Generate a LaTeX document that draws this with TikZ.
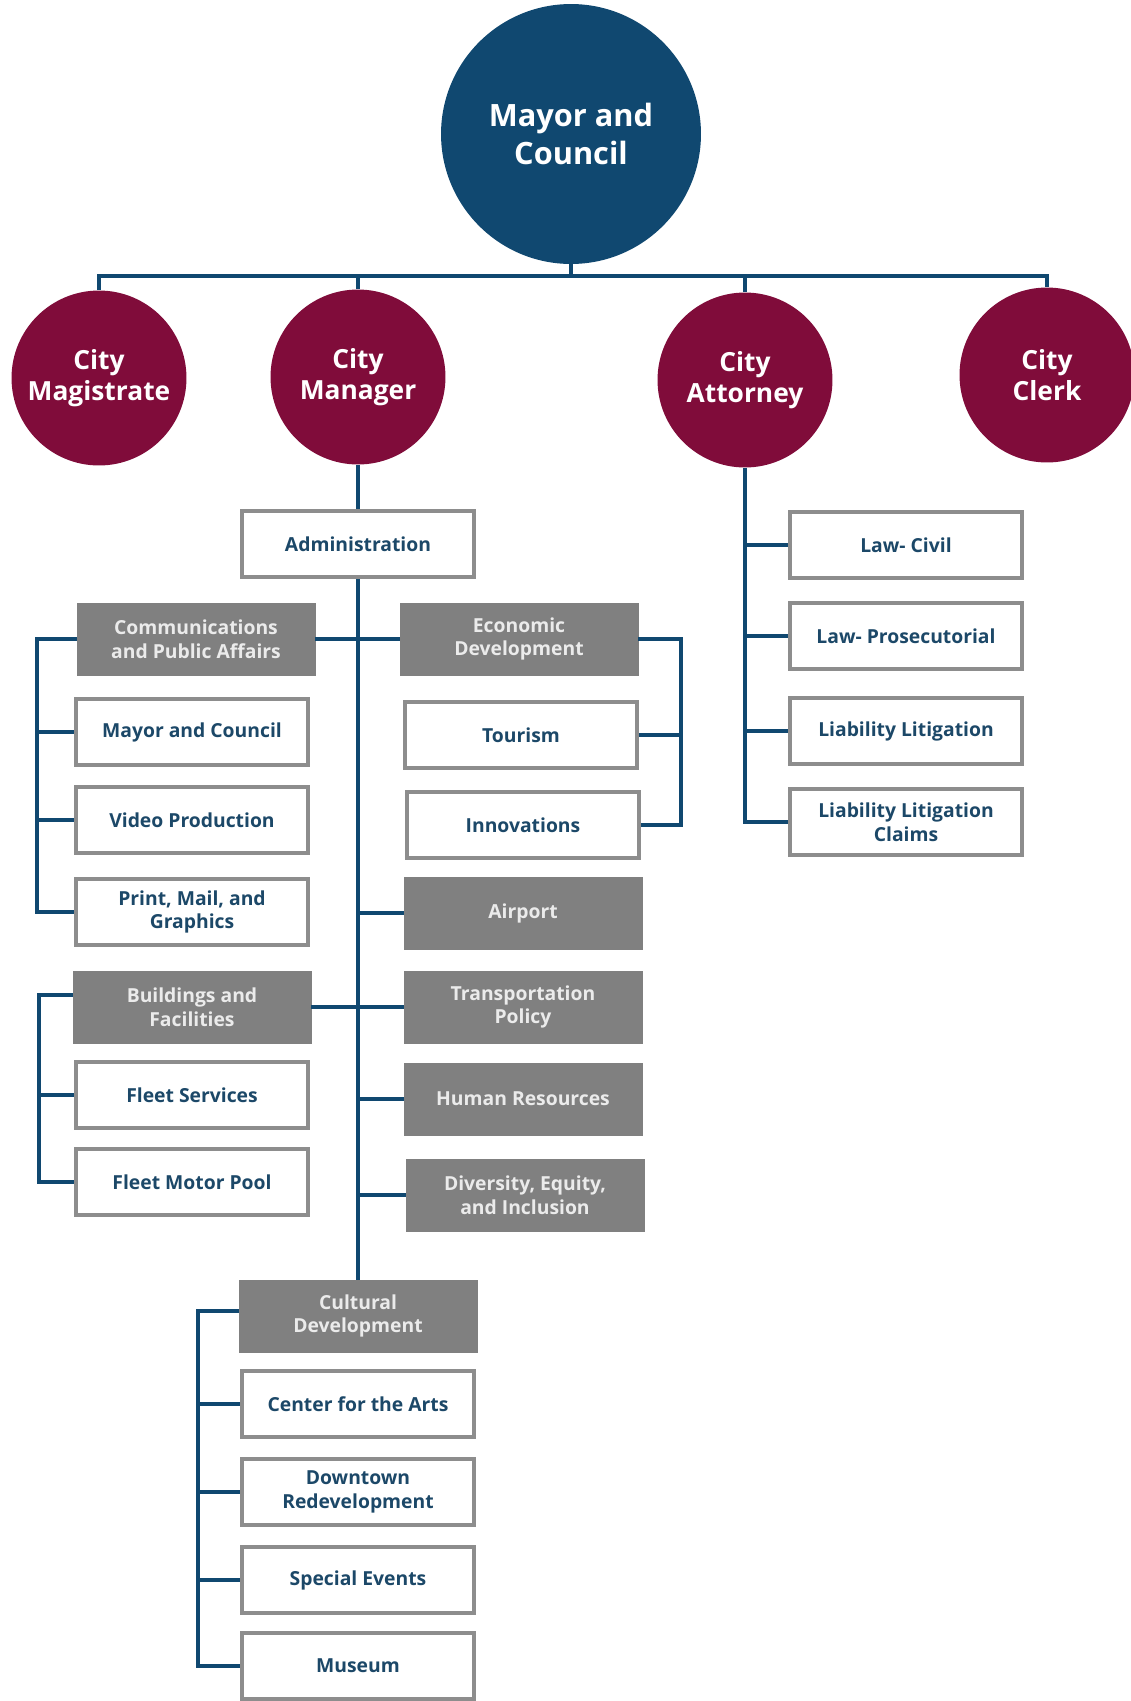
\documentclass[tikz,border=0pt]{standalone}
\usepackage{fontspec}
\setmainfont{Open Sans}
\definecolor{cityblue}{RGB}{16,72,112}
\definecolor{citymaroon}{RGB}{128,12,58}
\definecolor{boxgray}{RGB}{128,128,128}
\definecolor{textblue}{RGB}{28,72,104}
\usetikzlibrary{calc}

\begin{document}
\begin{tikzpicture}[x=0.02cm,y=-0.02cm,
  conn/.style={draw=cityblue,line width=2.3pt},
  topcircle/.style={circle,fill=cityblue,text=white,minimum size=5.2cm,inner sep=0pt,
    font=\fontsize{17.5}{21.5}\selectfont\bfseries,align=center},
  deptcircle/.style={circle,fill=citymaroon,text=white,minimum size=3.5cm,inner sep=0pt,
    font=\fontsize{15}{17.5}\selectfont\bfseries,align=center},
  whitebox/.style={draw=boxgray!90,line width=2.8pt,fill=white,text=textblue,
    minimum width=4.64cm,minimum height=1.32cm,inner sep=2pt,
    font=\fontsize{11}{13.5}\selectfont\bfseries,align=center},
  graybox/.style={whitebox,fill=boxgray,draw=boxgray,line width=0.4pt,
    text=white!92!black,minimum width=4.76cm,minimum height=1.44cm}]
  \useasboundingbox (0,0) rectangle (1130,1701);
  % Top level
  \node[topcircle] (mayor) at (571,134) {Mayor and\\Council};
  \node[deptcircle] (magistrate) at (99,378) {City\\Magistrate};
  \node[deptcircle] (manager) at (358,377) {City\\Manager};
  \node[deptcircle] (attorney) at (745,380) {City\\Attorney};
  \node[deptcircle] (clerk) at (1047,375) {City\\Clerk};
  % City Manager branch
  \node[whitebox] (admin) at (358,544) {Administration};
  \node[graybox] (comms) at (196,639) {Communications\\and Public Affairs};
  \node[whitebox] (mayorcouncil) at (192,732) {Mayor and Council};
  \node[whitebox] (video) at (192,820) {Video Production};
  \node[whitebox] (print) at (192,912) {Print, Mail, and\\Graphics};
  \node[graybox] (buildings) at (192,1007) {Buildings and\\Facilities};
  \node[whitebox] (fleetsvc) at (192,1095) {Fleet Services};
  \node[whitebox] (motorpool) at (192,1182) {Fleet Motor Pool};
  \node[graybox] (econ) at (519,639) {Economic\\Development};
  \node[whitebox] (tourism) at (521,735) {Tourism};
  \node[whitebox] (innov) at (523,825) {Innovations};
  \node[graybox] (airport) at (523,913) {Airport};
  \node[graybox] (transp) at (523,1007) {Transportation\\Policy};
  \node[graybox] (hr) at (523,1099) {Human Resources};
  \node[graybox] (dei) at (525,1195) {Diversity, Equity,\\and Inclusion};
  \node[graybox] (cultural) at (358,1316) {Cultural\\Development};
  \node[whitebox] (arts) at (358,1404) {Center for the Arts};
  \node[whitebox] (downtown) at (358,1492) {Downtown\\Redevelopment};
  \node[whitebox] (special) at (358,1580) {Special Events};
  \node[whitebox] (museum) at (358,1666) {Museum};
  % City Attorney branch
  \node[whitebox] (civil) at (906,545) {Law- Civil};
  \node[whitebox] (prosec) at (906,636) {Law- Prosecutorial};
  \node[whitebox] (liab) at (906,731) {Liability Litigation};
  \node[whitebox] (claims) at (906,822) {Liability Litigation\\Claims};
  % Connectors
  \coordinate (bus) at (571,276);
  \draw[conn] (mayor.south) -- (bus);
  \draw[conn] (magistrate.north) |- (bus) -| (clerk.north);
  \draw[conn] (manager.north) -- (manager.north |- bus);
  \draw[conn] (attorney.north) -- (attorney.north |- bus);
  \draw[conn] (manager.south) -- (admin.north);
  \draw[conn] (admin.south) -- (cultural.north);
  \draw[conn] (comms.east) -- (econ.west);
  \draw[conn] (buildings.east) -- (transp.west);
  \foreach \n in {airport,hr,dei}
    \draw[conn] (\n.west) -- (\n.west -| admin.south);
  \coordinate (cpabar) at (37,639);
  \draw[conn] (comms.west) -- (cpabar) |- (print.west);
  \foreach \n in {mayorcouncil,video}
    \draw[conn] (\n.west) -- (\n.west -| cpabar);
  \coordinate (edbar) at (681,639);
  \draw[conn] (econ.east) -- (edbar) |- (innov.east);
  \draw[conn] (tourism.east) -- (tourism.east -| edbar);
  \coordinate (bfbar) at (39,995);
  \draw[conn] (buildings.west |- bfbar) -- (bfbar) |- (motorpool.west);
  \draw[conn] (fleetsvc.west) -- (fleetsvc.west -| bfbar);
  \coordinate (cdbar) at (198,1311);
  \draw[conn] (cultural.west |- cdbar) -- (cdbar) |- (museum.west);
  \foreach \n in {arts,downtown,special}
    \draw[conn] (\n.west) -- (\n.west -| cdbar);
  \draw[conn] (attorney.south) |- (claims.west);
  \foreach \n in {civil,prosec,liab}
    \draw[conn] (\n.west) -- (\n.west -| attorney.south);
\end{tikzpicture}
\end{document}
